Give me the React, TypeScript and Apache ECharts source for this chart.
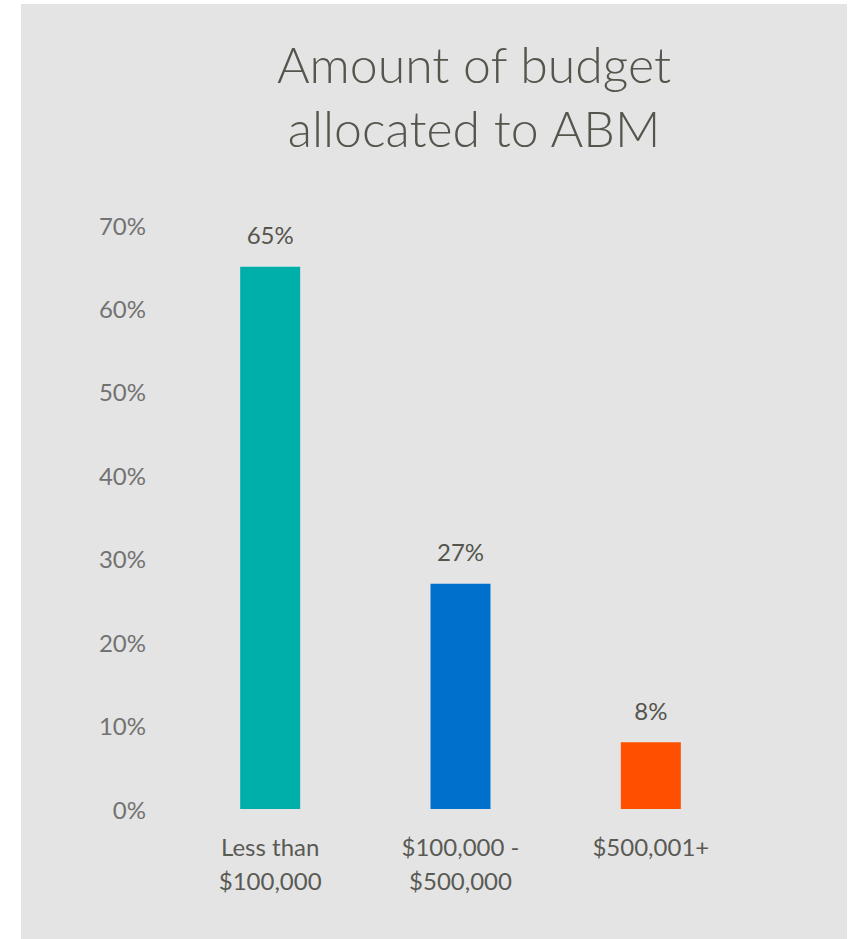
import React, { useEffect, useRef } from "react";
import * as echarts from "echarts";

const titleText = "Amount of budget\nallocated to ABM";
const categories = ["Less than\n$100,000", "$100,000 -\n$500,000", "$500,001+"];
const values = [65, 27, 8];
const barColors = ["#00AFAA", "#0070CD", "#FF5000"];
const yTicks = [0, 10, 20, 30, 40, 50, 60, 70];

const FONT = "Lato, 'Noto Sans', sans-serif";

export default function App() {
  const ref = useRef<HTMLDivElement>(null);
  useEffect(() => {
    document.body.style.margin = "0";
    if (!ref.current) return;
    const chart = echarts.init(ref.current, null, { renderer: "svg" });
    chart.setOption({
      animation: false,
      backgroundColor: "#ffffff",
      graphic: [
        {
          type: "rect",
          z: -10,
          shape: { x: 21, y: 4, width: 826, height: 935 },
          style: { fill: "#e4e4e4" },
          silent: true,
        },
      ],
      title: {
        text: titleText,
        left: 469,
        top: 27,
        textAlign: "center",
        textStyle: {
          fontFamily: FONT,
          fontWeight: 300,
          fontSize: 50,
          lineHeight: 64,
          color: "#55554d",
        },
      },
      grid: { left: 175, right: 108, top: 225, bottom: 130 },
      xAxis: {
        type: "category",
        data: categories,
        axisLine: { show: false },
        axisTick: { show: false },
        axisLabel: {
          margin: 20,
          fontFamily: FONT,
          fontSize: 24,
          lineHeight: 34,
          color: "#5a5a55",
        },
      },
      yAxis: {
        type: "value",
        min: 0,
        max: 70,
        interval: 10,
        splitLine: { show: false },
        axisLine: { show: false },
        axisTick: { show: false },
        axisLabel: {
          margin: 29,
          fontFamily: FONT,
          fontSize: 24,
          color: "#727272",
          formatter: (v: number) => (yTicks.includes(v) ? v + "%" : ""),
        },
      },
      series: [
        {
          type: "bar",
          barWidth: 60,
          data: values.map((v, i) => ({ value: v, itemStyle: { color: barColors[i] } })),
          label: {
            show: true,
            position: "top",
            distance: 20,
            fontFamily: FONT,
            fontSize: 24,
            color: "#55554d",
            formatter: (p: any) => p.value + "%",
          },
        },
      ],
    });
    return () => chart.dispose();
  }, []);
  return <div ref={ref} style={{ width: 854, height: 939 }} />;
}
